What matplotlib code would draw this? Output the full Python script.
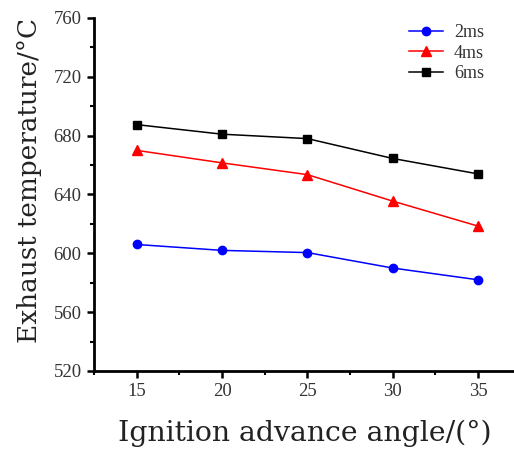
import matplotlib
matplotlib.use("Agg")
import matplotlib.pyplot as plt
from matplotlib.ticker import MultipleLocator

angles = [15, 20, 25, 30, 35]
t_2ms = [606, 602, 600.5, 590, 582]
t_4ms = [670, 661.5, 653.5, 635.5, 618.5]
t_6ms = [687.5, 681, 678, 664.5, 654]
series_labels = ["2ms", "4ms", "6ms"]
xlabel = 'Ignition advance angle/(°)'
ylabel = 'Exhaust temperature/°C'

plt.rcParams['font.family'] = ['Liberation Serif', 'DejaVu Serif']

fig = plt.figure(figsize=(5.14, 4.5), dpi=100)
ax = fig.add_axes([0.183, 0.1756, 0.83, 0.7844])

ax.plot(angles, t_2ms, color='#0000FF', marker='o', markersize=6, lw=1.1, label=series_labels[0])
ax.plot(angles, t_4ms, color='#FF0000', marker='^', markersize=6.5, lw=1.1, label=series_labels[1])
ax.plot(angles, t_6ms, color='black', marker='s', markersize=5.5, lw=1.1, label=series_labels[2])

ax.set_xlim(12.5, 37.5)
ax.set_ylim(520, 760)
ax.xaxis.set_major_locator(MultipleLocator(5))
ax.xaxis.set_minor_locator(MultipleLocator(2.5))
ax.yaxis.set_major_locator(MultipleLocator(40))
ax.yaxis.set_minor_locator(MultipleLocator(20))

for s in ['top', 'right']:
    ax.spines[s].set_visible(False)
for s in ['left', 'bottom']:
    ax.spines[s].set_linewidth(2)

ax.tick_params(which='major', direction='out', length=5, width=1.8, labelsize=13.5, colors='black', pad=4)
ax.tick_params(which='minor', direction='out', length=3, width=1.5)
for lab in ax.get_xticklabels() + ax.get_yticklabels():
    lab.set_color('#333333')

lab_font = ['DejaVu Serif']
xl = ax.set_xlabel(xlabel, fontsize=18, color='#222222', family=lab_font)
yl = ax.set_ylabel(ylabel, fontsize=18, color='#222222', family=lab_font)

# scale label sizes to the reference text extents
fig.canvas.draw()
r = fig.canvas.get_renderer()
wx = xl.get_window_extent(r).width
xl.set_fontsize(18 * 376 / wx)
hy = yl.get_window_extent(r).height
yl.set_fontsize(18 * 325 / hy)

ax.xaxis.set_label_coords(0.495, -0.138)
ax.yaxis.set_label_coords(-0.123, 0.54)

leg = ax.legend(loc='upper left', bbox_to_anchor=(0.7, 1.029), frameon=False, fontsize=13,
                handlelength=1.9, labelspacing=0.2, handletextpad=0.6)
for t in leg.get_texts():
    t.set_color('#333333')

fig.savefig('out.png', dpi=100)
